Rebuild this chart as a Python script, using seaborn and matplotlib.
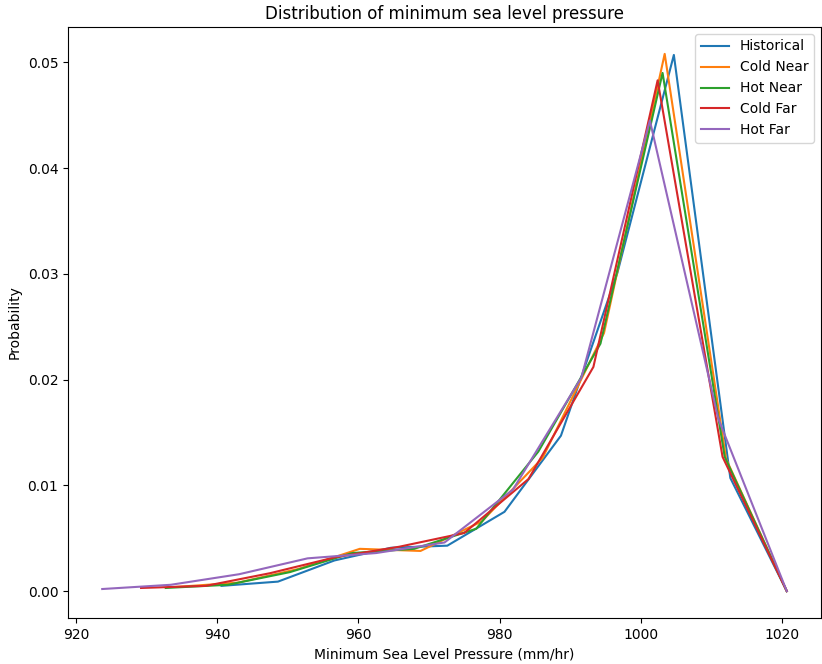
import matplotlib
matplotlib.use("Agg")
import matplotlib.pyplot as plt
import seaborn as sns
import pandas as pd

# Series names
series_names = ["Historical", "Cold Near", "Hot Near", "Cold Far", "Hot Far"]

# Pressure values (mm/hr)
x_historical = [940.6, 948.6, 956.6, 964.6, 972.6, 980.7, 988.7, 996.7, 1004.7, 1012.7, 1020.7]
x_cold_near = [934.2, 942.9, 951.5, 960.2, 968.8, 977.5, 986.1, 994.8, 1003.4, 1012.1, 1020.7]
x_hot_near = [932.7, 941.5, 950.3, 959.1, 967.9, 976.7, 985.5, 994.3, 1003.1, 1011.9, 1020.7]
x_cold_far = [929.2, 938.4, 947.5, 956.7, 965.8, 975.0, 984.1, 993.3, 1002.4, 1011.6, 1020.7]
x_hot_far = [923.7, 933.4, 943.1, 952.8, 962.5, 972.2, 981.9, 991.6, 1001.3, 1011.0, 1020.7]

# Probability values
p_historical = [0.0005, 0.0009, 0.0029, 0.0041, 0.0043, 0.0075, 0.0147, 0.0301, 0.0507, 0.0107, 0.0]
p_cold_near = [0.0004, 0.0008, 0.0021, 0.0040, 0.0038, 0.0066, 0.0126, 0.0244, 0.0508, 0.0125, 0.0]
p_hot_near = [0.0003, 0.0006, 0.0018, 0.0036, 0.0040, 0.0059, 0.0132, 0.0234, 0.0490, 0.0127, 0.0]
p_cold_far = [0.0003, 0.0005, 0.0017, 0.0032, 0.0042, 0.0055, 0.0106, 0.0212, 0.0483, 0.0127, 0.0]
p_hot_far = [0.0002, 0.0006, 0.0016, 0.0031, 0.0036, 0.0046, 0.0096, 0.0202, 0.0445, 0.0163, 0.0]

xs = [x_historical, x_cold_near, x_hot_near, x_cold_far, x_hot_far]
ps = [p_historical, p_cold_near, p_hot_near, p_cold_far, p_hot_far]

plt.rcParams["font.family"] = ["DejaVu Sans"]
plt.rcParams["font.size"] = 10

fig = plt.figure(figsize=(8.22, 6.64), dpi=100)
ax = fig.add_axes([68 / 822, 1 - 618 / 664, (821 - 68) / 822, (618 - 27) / 664])

palette = sns.color_palette("tab10", 5)
for name, x, p, c in zip(series_names, xs, ps, palette):
    df = pd.DataFrame({"pressure": x, "prob": p})
    sns.lineplot(data=df, x="pressure", y="prob", ax=ax, label=name,
                 color=c, linewidth=1.5, estimator=None, sort=False)

ax.set_title("Distribution of minimum sea level pressure", fontsize=12)
ax.set_xlabel("Minimum Sea Level Pressure (mm/hr)")
ax.set_ylabel("Probability")
ax.legend(loc="upper right")

fig.savefig("out.png", dpi=100)
